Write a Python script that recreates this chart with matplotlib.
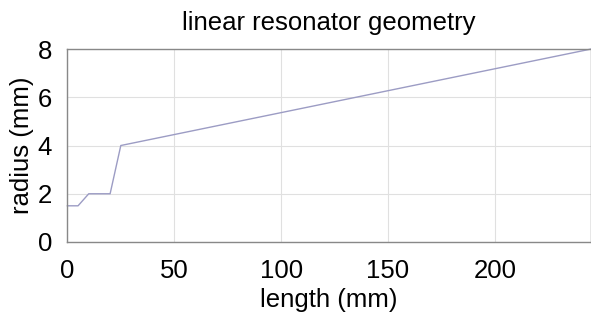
import matplotlib
matplotlib.use('Agg')
import matplotlib.pyplot as plt

# resonator profile (mm)
length = [0, 5, 10, 20, 25, 245]
radius = [1.5, 1.5, 2.0, 2.0, 4.0, 8.0]

xticks = [0, 50, 100, 150, 200]
yticks = [0, 2, 4, 6, 8]

plt.rcParams['font.family'] = ['Liberation Sans', 'DejaVu Sans']

fig = plt.figure(figsize=(5.91, 3.27), dpi=100)
ax = fig.add_axes([0.114, 0.26, 0.886, 0.59])

ax.plot(length, radius, color='#9c9cc4', linewidth=1.0, clip_on=False)

ax.set_xlim(0, 245)
ax.set_ylim(0, 8)
ax.set_xticks(xticks)
ax.set_yticks(yticks)
ax.grid(True, color='#e0e0e0', linewidth=0.8)
ax.tick_params(length=0, labelsize=18.5)
ax.tick_params(axis='x', pad=12)
ax.tick_params(axis='y', pad=11)
for s in ax.spines.values():
    s.set_color('#888888')
    s.set_linewidth(1.0)

ax.set_title('linear resonator geometry', fontsize=18.5, pad=14)
ax.set_xlabel('length (mm)', fontsize=18.5, labelpad=4)
ax.set_ylabel('radius (mm)', fontsize=18.5, labelpad=3)

fig.savefig('out.png', dpi=100)
